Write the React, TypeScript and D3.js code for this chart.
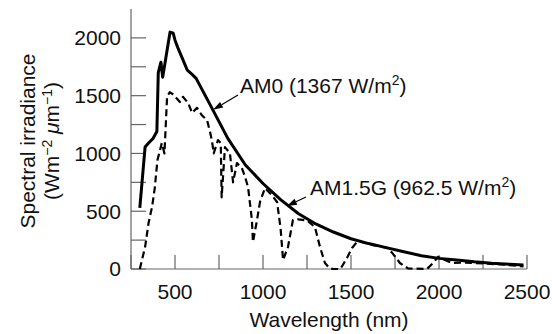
import React from "react";
import * as d3 from "d3";

// ---- data (wavelength nm, spectral irradiance W m^-2 um^-1) ----
const am0Wavelength = [300, 330, 350, 375, 397, 405, 420, 430, 472, 490, 500, 520, 540, 570, 600, 620, 700, 800, 900, 1000, 1100, 1200, 1300, 1400, 1500, 1600, 1700, 1800, 1900, 2000, 2100, 2200, 2300, 2400, 2480];
const am0Irradiance = [530, 1055, 1090, 1130, 1190, 1700, 1790, 1660, 2050, 2040, 1980, 1900, 1830, 1720, 1680, 1650, 1420, 1130, 900, 740, 600, 480, 390, 320, 262, 220, 185, 150, 115, 92, 78, 62, 50, 42, 35];

const am15Wavelength = [300, 330, 350, 370, 385, 400, 425, 440, 455, 470, 490, 528, 545, 575, 597, 625, 653, 682, 700, 710, 720, 744, 760, 765, 784, 812, 830, 852, 880, 898, 915, 937, 943, 966, 983, 1011, 1050, 1080, 1100, 1114, 1142, 1170, 1200, 1250, 1295, 1324, 1352, 1380, 1400, 1440, 1477, 1506, 1534, 1560, 1625, 1705, 1735, 1778, 1824, 1932, 1966, 1994, 2034, 2074, 2150, 2250, 2350, 2480];
const am15Irradiance = [0, 190, 400, 540, 700, 940, 1090, 1000, 1490, 1530, 1510, 1445, 1490, 1436, 1350, 1395, 1330, 1290, 1180, 1110, 1000, 1116, 1090, 620, 1055, 1003, 750, 917, 874, 796, 710, 424, 234, 424, 580, 700, 640, 580, 350, 78, 190, 424, 430, 420, 363, 190, 52, 5, 0, 0, 95, 182, 234, 234, 207, 182, 138, 52, 5, 0, 52, 104, 78, 52, 55, 48, 40, 22];

const xTicks = [250, 500, 750, 1000, 1250, 1500, 1750, 2000, 2250, 2500];
const xTickLabels = [500, 1000, 1500, 2000, 2500];
const yTicks = [0, 250, 500, 750, 1000, 1250, 1500, 1750, 2000];
const yTickLabels = [0, 500, 1000, 1500, 2000];

// annotations: label position and arrow (in data units)
const am0Label = { text: "AM0 (1367 W/m", x: 869, y: 1522 };
const am0Arrow = { x1: 858, y1: 1505, x2: 716, y2: 1378 };
const am15Label = { text: "AM1.5G (962.5 W/m", x: 1267, y: 640 };
const am15Arrow = { x1: 1244, y1: 623, x2: 1136, y2: 545 };

const W = 552;
const H = 334;
const FONT = "'Liberation Sans', Arial, Helvetica, sans-serif";
const FS = 21;
const SUP = 14;

function Arrow({ x1, y1, x2, y2 }: { x1: number; y1: number; x2: number; y2: number }) {
  const ang = Math.atan2(y2 - y1, x2 - x1);
  const L = 10;
  const w = 3.2;
  const bx = x2 - L * Math.cos(ang);
  const by = y2 - L * Math.sin(ang);
  const px = -Math.sin(ang) * w;
  const py = Math.cos(ang) * w;
  return (
    <g>
      <line x1={x1} y1={y1} x2={bx} y2={by} stroke="#000" strokeWidth={1.2} />
      <path d={`M${x2},${y2}L${bx + px},${by + py}L${bx - px},${by - py}Z`} fill="#000" />
    </g>
  );
}

export default function App() {
  const x = d3.scaleLinear().domain([250, 2500]).range([131, 527]);
  const y = d3.scaleLinear().domain([0, 2250]).range([269, 9]);

  const line = d3
    .line<[number, number]>()
    .x((d) => x(d[0]))
    .y((d) => y(d[1]));

  const am0 = am0Wavelength.map((w, i) => [w, am0Irradiance[i]] as [number, number]);
  const am15 = am15Wavelength.map((w, i) => [w, am15Irradiance[i]] as [number, number]);

  const axisColor = "#666";

  return (
    <svg width={W} height={H} style={{ position: "absolute", left: 0, top: 0, background: "#fff" }} fontFamily={FONT}>
      {/* axes */}
      <line x1={x(250)} y1={y(0)} x2={x(250)} y2={y(2250)} stroke={axisColor} strokeWidth={1.2} />
      <line x1={x(250)} y1={y(0)} x2={x(2500)} y2={y(0)} stroke={axisColor} strokeWidth={1.2} />
      {yTicks.map((t) => (
        <line key={"yt" + t} x1={x(250)} x2={x(250) + 15} y1={y(t)} y2={y(t)} stroke={axisColor} strokeWidth={1.2} />
      ))}
      {xTicks.map((t) => (
        <line key={"xt" + t} x1={x(t)} x2={x(t)} y1={y(0)} y2={y(0) - 14} stroke={axisColor} strokeWidth={1.2} />
      ))}
      {yTickLabels.map((t) => (
        <text key={"yl" + t} x={x(250) - 10} y={y(t)} dy="0.35em" textAnchor="end" fontSize={FS} fill="#111">
          {t}
        </text>
      ))}
      {xTickLabels.map((t) => (
        <text key={"xl" + t} x={x(t)} y={299} textAnchor="middle" fontSize={FS} fill="#111">
          {t}
        </text>
      ))}
      <text x={(x(250) + x(2500)) / 2} y={327} textAnchor="middle" fontSize={FS} fill="#111">
        Wavelength (nm)
      </text>
      <g transform="translate(35,141) rotate(-90)">
        <text x={0} y={0} textAnchor="middle" fontSize={FS} fill="#111">
          Spectral irradiance
        </text>
        <text x={0} y={24} textAnchor="middle" fontSize={FS} fill="#111">
          (Wm<tspan dy={-7} fontSize={SUP}>−2</tspan>
          <tspan dy={7}> </tspan>
          <tspan fontStyle="italic">μ</tspan>m<tspan dy={-7} fontSize={SUP}>−1</tspan>
          <tspan dy={7}>)</tspan>
        </text>
      </g>

      {/* curves */}
      <path d={line(am15) || ""} fill="none" stroke="#000" strokeWidth={2.2} strokeDasharray="7,4" strokeLinejoin="round" />
      <path d={line(am0) || ""} fill="none" stroke="#000" strokeWidth={3} strokeLinejoin="round" />

      {/* annotations */}
      <Arrow x1={x(am0Arrow.x1)} y1={y(am0Arrow.y1)} x2={x(am0Arrow.x2)} y2={y(am0Arrow.y2)} />
      <text x={x(am0Label.x)} y={y(am0Label.y)} fontSize={FS} fill="#111">
        {am0Label.text}
        <tspan dy={-8} fontSize={SUP}>2</tspan>
        <tspan dy={8}>)</tspan>
      </text>
      <Arrow x1={x(am15Arrow.x1)} y1={y(am15Arrow.y1)} x2={x(am15Arrow.x2)} y2={y(am15Arrow.y2)} />
      <text x={x(am15Label.x)} y={y(am15Label.y)} fontSize={FS} fill="#111">
        {am15Label.text}
        <tspan dy={-8} fontSize={SUP}>2</tspan>
        <tspan dy={8}>)</tspan>
      </text>
    </svg>
  );
}
